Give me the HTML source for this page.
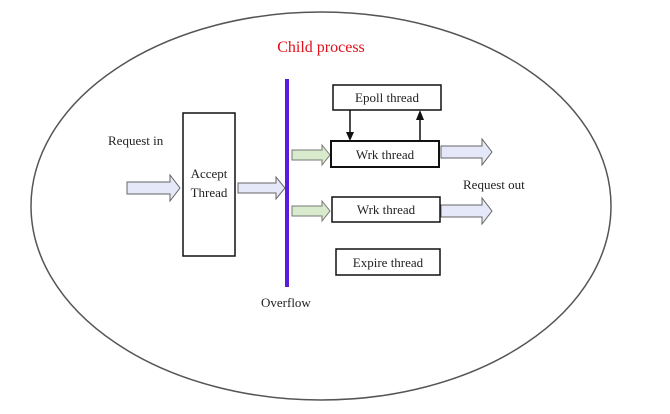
<!DOCTYPE html>
<html><head><style>
body{margin:0;background:#fff;}
</style></head><body>
<svg width="670" height="409" xmlns="http://www.w3.org/2000/svg" font-family="Liberation Serif, serif">
<rect width="670" height="409" fill="#fff"/>
<ellipse cx="321" cy="206" rx="290" ry="194" fill="none" stroke="#555" stroke-width="1.5"/>
<text x="321" y="52" text-anchor="middle" font-size="16" fill="#e0101a">Child process</text>
<text x="108" y="145" font-size="13" fill="#222">Request in</text>
<text x="463" y="189" font-size="13" fill="#222">Request out</text>
<text x="261" y="307" font-size="13" fill="#222">Overflow</text>
<!-- block arrows -->
<g stroke="#666" stroke-width="1" fill="#e4e8f8">
<polygon points="127,182 170,182 170,175 180,188 170,201 170,194 127,194"/>
<polygon points="238,183 276,183 276,177 285,188 276,199 276,193 238,193"/>
<polygon points="441,146 482,146 482,139 492,152 482,165 482,158 441,158"/>
<polygon points="441,205 482,205 482,198 492,211 482,224 482,217 441,217"/>
</g>
<g stroke="#777" stroke-width="1" fill="#d8ebcc">
<polygon points="292,150 322,150 322,145 330,155 322,165 322,160 292,160"/>
<polygon points="292,206 322,206 322,201 330,211 322,221 322,216 292,216"/>
</g>
<rect x="183" y="113" width="52" height="143" fill="#fff" stroke="#111" stroke-width="1.5"/>
<text x="209" y="178" text-anchor="middle" font-size="13" fill="#222">Accept</text>
<text x="209" y="197" text-anchor="middle" font-size="13" fill="#222">Thread</text>
<rect x="285" y="79" width="4" height="208" fill="#5a1ae0"/>
<rect x="333" y="85" width="108" height="25" fill="#fff" stroke="#111" stroke-width="1.5"/>
<text x="387" y="102" text-anchor="middle" font-size="13" fill="#222">Epoll thread</text>
<rect x="331" y="141" width="108" height="26" fill="#fff" stroke="#111" stroke-width="2"/>
<text x="385" y="159" text-anchor="middle" font-size="13" fill="#222">Wrk thread</text>
<rect x="332" y="197" width="108" height="25" fill="#fff" stroke="#111" stroke-width="1.5"/>
<text x="386" y="214" text-anchor="middle" font-size="13" fill="#222">Wrk thread</text>
<rect x="336" y="249" width="104" height="26" fill="#fff" stroke="#111" stroke-width="1.5"/>
<text x="388" y="267" text-anchor="middle" font-size="13" fill="#222">Expire thread</text>
<line x1="350" y1="110" x2="350" y2="133" stroke="#111" stroke-width="1.5"/>
<polygon points="346,132 354,132 350,141" fill="#111"/>
<line x1="420" y1="141" x2="420" y2="119" stroke="#111" stroke-width="1.5"/>
<polygon points="416,120 424,120 420,110" fill="#111"/>
</svg>
</body></html>
